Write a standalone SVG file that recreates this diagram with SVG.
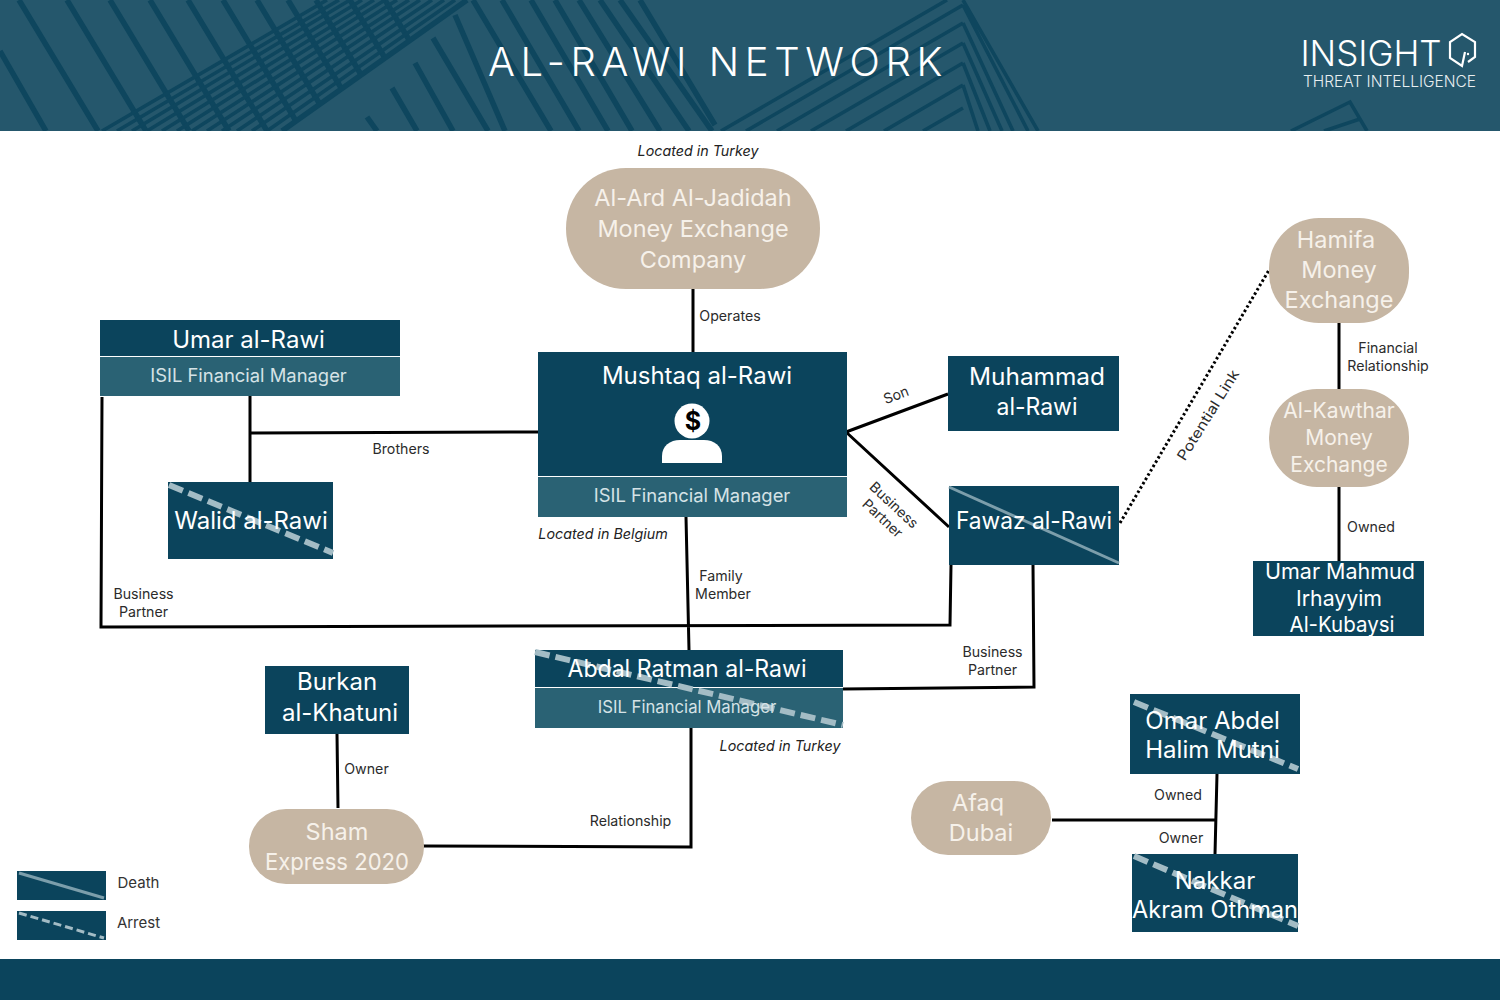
<svg xmlns="http://www.w3.org/2000/svg" width="1500" height="1000" viewBox="0 0 1500 1000">
<style>
text{font-family:"Inter","Noto Sans","Liberation Sans",sans-serif;text-anchor:middle}
.box{fill:#0b445c}.sub{fill:#2a6274}.pill{fill:#c6b6a3}
.nm{font-size:24px;fill:#fff}.nms{font-size:22px;fill:#fff}.st{font-size:18.4px;fill:#d5e2e6}
.pl{font-size:23.5px;fill:#f6f1ea}.lb{font-size:14.2px;fill:#2b2b2b}.it{font-size:14.3px;font-style:italic;fill:#222}
.cn{stroke:#000;stroke-width:3;fill:none}
.death{stroke:#7c9eab;stroke-width:3;fill:none}
.arrest{stroke:#a3bcc5;stroke-width:6;fill:none;stroke-dasharray:15 6}
.s1{stroke:#0e465e;stroke-width:5.5;fill:none}.s2{stroke:#0e465e;stroke-width:3.600;fill:none}
</style>
<defs>
<clipPath id="hc"><rect width="1500" height="131"/></clipPath>
<clipPath id="lc"><path d="M0 0H467L282 131H0Z"/></clipPath>
</defs>
<g id="header" clip-path="url(#hc)">
<rect width="1500" height="131" fill="#25576c"/>
<g clip-path="url(#lc)">
<path class="s1" d="M0 51L46 131M19 0L98 131M67 0L146 131M110 0L189 131M150 0L229 131M188 0L267 131M223 0L302 131M257 0L336 131M288 0L367 131M316 0L395 131M350 0L429 131M385 0L464 131"/>
</g>
<path class="s2" d="M102 131L327 0M117 131L339 0M132 131L350 0M147 131L362 0M162 131L374 0M177 131L385 0M192 131L397 0M207 131L409 0M222 131L420 0M237 131L432 0M252 131L444 0M267 131L455 0"/>
<path class="s1" d="M282 131L467 0"/>
<path class="s1" d="M455 15L505 131M433 38L488 131M415 63L453 131M392 88L417 131M367 117L377 131M473 0L551 131M502 0L579 131M531 0L608 131M555 0L632 131M579 0L660 131M600 0L689 131M620 0L712 131M640 0L715 125"/>
<path class="s2" d="M721 131L947 0M746 131L963 5M777 131L963 23M811 131L963 43M846 131L963 63M884 131L963 85M923 131L963 108"/>
<path class="s2" d="M963 0L1038 131M963 5L1028 131M963 23L1013 131M963 43L1002 131M963 63L990 131M963 85L978 131"/>
<path class="s2" d="M1291 131L1350 102L1367 131M1324 131L1360 119"/>
</g>
<g id="title"><text x="718" y="76" style="font-size:40px;font-weight:300;letter-spacing:5.6px;fill:#fff">AL-RAWI NETWORK</text></g>
<g id="logo">
<text x="1371" y="66" style="font-size:35px;font-weight:300;fill:#fff">INSIGHT</text>
<text x="1389.500" y="87" style="font-size:15.500px;font-weight:300;fill:#e8eef0">THREAT INTELLIGENCE</text>
<path d="M1468 62L1475 57V42L1462 34L1450 42V58L1462 66L1465 52" fill="none" stroke="#fff" stroke-width="2.200"/>
<circle cx="1468" cy="54" r="1.200" fill="#fff"/>
</g>
<rect id="footer" y="959" width="1500" height="41" fill="#0b445c"/>

<g id="connectors">
<path class="cn" d="M693 289V352M250 396V482M251 433L538 432M102 397L101 627L950 625L951 565M846 432L948 394M846 432L949 527M686 517L689 650M1033 565L1034 687L843 689M337 734L338 808M691 728V847L423 846M1339 323V389M1339 487V561M1052 820H1217M1217 774L1215 854"/>
<path d="M1120 523L1269 270" fill="none" stroke="#000" stroke-width="3" stroke-dasharray="2.500 2.500"/>
</g>

<g id="alard"><rect class="pill" x="566" y="168" width="254" height="121" rx="60"/>
<text class="pl" x="693" y="206">Al-Ard Al-Jadidah</text><text class="pl" x="693" y="237">Money Exchange</text><text class="pl" x="693" y="268">Company</text></g>
<g id="umar"><rect class="box" x="100" y="320" width="300" height="36"/><rect class="sub" x="100" y="357" width="300" height="39"/>
<text class="nm" x="248.500" y="348">Umar al-Rawi</text><text class="st" x="248.500" y="382">ISIL Financial Manager</text></g>
<g id="mushtaq"><rect class="box" x="538" y="352" width="309" height="124"/><rect class="sub" x="538" y="477" width="309" height="40"/>
<text class="nm" x="697" y="384">Mushtaq al-Rawi</text><text class="st" x="692" y="502">ISIL Financial Manager</text>
<circle cx="692" cy="421" r="17.500" fill="#fff"/><path d="M662 463V456C662 446 670 440 680 440H704C714 440 722 446 722 456V463Z" fill="#fff"/>
<text x="693" y="430" style="font-size:25px;font-weight:700;fill:#000">$</text></g>
<g id="muhammad"><rect class="box" x="948" y="356" width="171" height="75"/>
<text class="nm" x="1037" y="385" textLength="136" lengthAdjust="spacingAndGlyphs">Muhammad</text><text class="nm" x="1037" y="415" textLength="81" lengthAdjust="spacingAndGlyphs">al-Rawi</text></g>
<g id="fawaz"><rect class="box" x="949" y="486" width="170" height="79"/><path class="death" d="M949 487L1119 563"/>
<text class="nm" x="1034" y="529" textLength="156" lengthAdjust="spacingAndGlyphs">Fawaz al-Rawi</text></g>
<g id="walid"><rect class="box" x="168" y="482" width="165" height="77"/><path class="arrest" d="M169 485L333 553"/>
<text class="nm" x="251" y="529">Walid al-Rawi</text></g>
<g id="abdal"><rect class="box" x="535" y="650" width="308" height="37"/><rect class="sub" x="535" y="688" width="308" height="40"/><path class="arrest" d="M535 652L843 725"/>
<text class="nm" x="687" y="677" textLength="239" lengthAdjust="spacingAndGlyphs">Abdal Ratman al-Rawi</text><text class="st" style="font-size:16.700px" x="687" y="713">ISIL Financial Manager</text></g>
<g id="burkan"><rect class="box" x="265" y="666" width="144" height="68"/>
<text class="nm" x="337" y="690">Burkan</text><text class="nm" x="340" y="721">al-Khatuni</text></g>
<g id="sham"><rect class="pill" x="249" y="809" width="175" height="75" rx="37"/>
<text class="pl" x="337" y="840">Sham</text><text class="pl" x="337" y="870" textLength="144" lengthAdjust="spacingAndGlyphs">Express 2020</text></g>
<g id="afaq"><rect class="pill" x="911" y="781" width="140" height="74" rx="37"/>
<text class="pl" x="978" y="811">Afaq</text><text class="pl" x="981" y="841">Dubai</text></g>
<g id="omar"><rect class="box" x="1130" y="694" width="170" height="80"/><path class="arrest" d="M1134 702L1298 769"/>
<text class="nm" x="1212.500" y="729">Omar Abdel</text><text class="nm" x="1212.500" y="758">Halim Mutni</text></g>
<g id="nakkar"><rect class="box" x="1132" y="854" width="166" height="78"/><path class="arrest" d="M1134 856L1298 926"/>
<text class="nm" x="1215" y="889">Nakkar</text><text class="nm" x="1215" y="918" textLength="166" lengthAdjust="spacingAndGlyphs">Akram Othman</text></g>
<g id="hamifa"><rect class="pill" x="1269" y="218" width="140" height="105" rx="50"/>
<text class="pl" x="1336" y="248">Hamifa</text><text class="pl" x="1339" y="278">Money</text><text class="pl" x="1339" y="308">Exchange</text></g>
<g id="kawthar"><rect class="pill" x="1269" y="389" width="140" height="98" rx="48"/>
<text class="pl" style="font-size:21px" x="1339" y="418">Al-Kawthar</text><text class="pl" style="font-size:21px" x="1339" y="445">Money</text><text class="pl" style="font-size:21px" x="1339" y="472">Exchange</text></g>
<g id="umarmahmud"><rect class="box" x="1253" y="561" width="171" height="75"/>
<text class="nms" x="1340" y="579" textLength="150" lengthAdjust="spacingAndGlyphs">Umar Mahmud</text><text class="nms" x="1339" y="606" textLength="86" lengthAdjust="spacingAndGlyphs">Irhayyim</text><text class="nms" x="1342" y="632" textLength="105" lengthAdjust="spacingAndGlyphs">Al-Kubaysi</text></g>

<g id="labels">
<text class="it" x="698" y="156">Located in Turkey</text>
<text class="it" x="603" y="539">Located in Belgium</text>
<text class="it" x="780" y="751">Located in Turkey</text>
<text class="lb" x="730" y="321">Operates</text>
<text class="lb" x="401" y="454">Brothers</text>
<text class="lb" x="896" y="400" transform="rotate(-21 896 395)">Son</text>
<text class="lb" x="894" y="510" transform="rotate(43 894 505)">Business</text>
<text class="lb" x="882" y="523" transform="rotate(43 882 519)">Partner</text>
<text class="lb" x="1208" y="420" transform="rotate(-58 1208 415)" textLength="104" lengthAdjust="spacingAndGlyphs">Potential Link</text>
<text class="lb" x="1388" y="353">Financial</text><text class="lb" x="1388" y="371">Relationship</text>
<text class="lb" x="1371" y="532">Owned</text>
<text class="lb" x="143.500" y="599">Business</text><text class="lb" x="143.500" y="617">Partner</text>
<text class="lb" x="721" y="581">Family</text><text class="lb" x="723" y="599">Member</text>
<text class="lb" x="992.500" y="657">Business</text><text class="lb" x="992.500" y="675">Partner</text>
<text class="lb" x="366.500" y="774">Owner</text>
<text class="lb" x="630.500" y="826">Relationship</text>
<text class="lb" x="1178" y="800">Owned</text>
<text class="lb" x="1181" y="843">Owner</text>
</g>
<g id="legend">
<rect class="box" x="17" y="871" width="89" height="29"/><path class="death" d="M19 873L104 898"/>
<rect class="box" x="17" y="911" width="89" height="29"/><path class="arrest" style="stroke-width:3;stroke-dasharray:8 4" d="M19 913L104 938"/>
<text x="138.500" y="888" style="font-size:15px;fill:#333">Death</text>
<text x="138.500" y="928" style="font-size:15px;fill:#333">Arrest</text>
</g>
</svg>
